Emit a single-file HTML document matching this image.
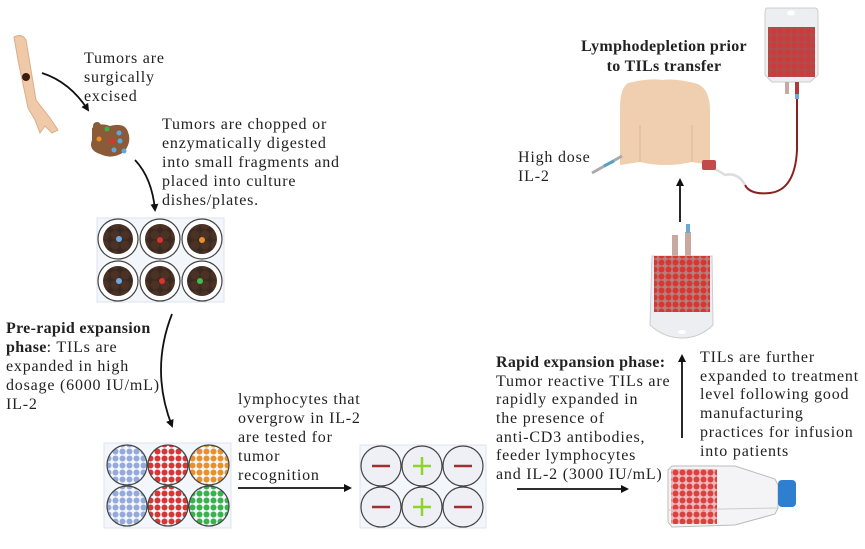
<!DOCTYPE html>
<html><head><meta charset="utf-8"><style>
body{margin:0;background:#fff}
svg text{font-family:"Liberation Serif",serif;font-size:16px;letter-spacing:0.8px;fill:#222}
.b{font-weight:bold;letter-spacing:0.3px}
</style></head><body>
<svg width="865" height="544" viewBox="0 0 865 544" xmlns="http://www.w3.org/2000/svg">
<defs>
<marker id="ah" markerWidth="8" markerHeight="8" refX="6" refY="4" orient="auto" markerUnits="userSpaceOnUse"><path d="M0,0 L8,4 L0,8 Z" fill="#111"/></marker>
<pattern id="rr" width="7" height="7" patternUnits="userSpaceOnUse"><circle cx="3.5" cy="3.5" r="3" fill="#d83535"/></pattern>
<pattern id="bl" width="7" height="7" patternUnits="userSpaceOnUse"><circle cx="3.5" cy="3.5" r="3" fill="#95a9dc"/></pattern>
<pattern id="or" width="7" height="7" patternUnits="userSpaceOnUse"><circle cx="3.5" cy="3.5" r="3" fill="#e8902a"/></pattern>
<pattern id="gr" width="7" height="7" patternUnits="userSpaceOnUse"><circle cx="3.5" cy="3.5" r="3" fill="#38b24a"/></pattern>
<pattern id="br" width="10" height="10" patternUnits="userSpaceOnUse"><rect width="10" height="10" fill="#3a2a22"/><circle cx="5" cy="5" r="4.5" fill="#4b3224"/></pattern>
</defs>

<!-- arm -->
<path d="M14,37 Q22,33 26,40 L36,100 L50,118 L58,130 L52,133 L45,126 L40,133 L35,120 L28,108 L18,60 Z" fill="#efc9a8" stroke="#d9ae8a"/>
<circle cx="26" cy="77" r="4" fill="#3a1c12"/>
<path d="M42,73 Q70,82 88,110" fill="none" stroke="#111" stroke-width="1.8" marker-end="url(#ah)"/>
<!-- tumor -->
<path d="M92,128 Q100,122 110,126 Q125,122 128,132 Q132,142 124,152 Q112,160 100,154 Q88,150 92,140 Z" fill="#8b5a38"/>
<circle cx="97" cy="126" r="4" fill="#8b5a38"/>
<circle cx="107" cy="129" r="2.5" fill="#3bb14a"/><circle cx="119" cy="133" r="2.5" fill="#5aa9e0"/><circle cx="112" cy="141" r="2.5" fill="#e03030"/><circle cx="120" cy="141" r="2.5" fill="#5aa9e0"/><circle cx="99" cy="139" r="2.5" fill="#e8902a"/><circle cx="114" cy="150" r="2.5" fill="#5aa9e0"/><circle cx="124" cy="151" r="2.5" fill="#5aa9e0"/>
<text x="84" y="63">Tumors are</text><text x="84" y="82">surgically</text><text x="84" y="101">excised</text>
<path d="M135,160 Q152,178 155,210" fill="none" stroke="#111" stroke-width="1.8" marker-end="url(#ah)"/>
<text x="162" y="129">Tumors are chopped or</text><text x="162" y="148">enzymatically digested</text><text x="162" y="167">into small fragments and</text><text x="162" y="186">placed into culture</text><text x="162" y="205">dishes/plates.</text>

<!-- plate1 -->
<rect x="97" y="218" width="127" height="84" fill="#f3f6fb" stroke="#dde3ee"/>
<g stroke="#444" stroke-width="1.2">
<circle cx="118" cy="239" r="20" fill="#fff"/><circle cx="160" cy="239" r="20" fill="#fff"/><circle cx="202" cy="239" r="20" fill="#fff"/>
<circle cx="118" cy="281" r="20" fill="#fff"/><circle cx="160" cy="281" r="20" fill="#fff"/><circle cx="202" cy="281" r="20" fill="#fff"/>
</g>
<g fill="url(#br)">
<circle cx="118" cy="239" r="15"/><circle cx="160" cy="239" r="15"/><circle cx="202" cy="239" r="15"/>
<circle cx="118" cy="281" r="15"/><circle cx="160" cy="281" r="15"/><circle cx="202" cy="281" r="15"/>
</g>
<circle cx="119" cy="239" r="3" fill="#6aa9e8"/><circle cx="160" cy="240" r="3" fill="#e03030"/><circle cx="202" cy="240" r="3" fill="#e8902a"/>
<circle cx="119" cy="281" r="3" fill="#6aa9e8"/><circle cx="162" cy="281" r="3" fill="#e03030"/><circle cx="200" cy="281" r="3" fill="#3bc04a"/>

<text x="6" y="333" class="b">Pre-rapid expansion</text>
<text x="6" y="352"><tspan class="b">phase</tspan>: TILs are</text>
<text x="6" y="371">expanded  in high</text>
<text x="6" y="390">dosage (6000 IU/mL)</text>
<text x="6" y="409"> IL-2</text>
<path d="M172,314 Q150,370 172,426" fill="none" stroke="#111" stroke-width="1.8" marker-end="url(#ah)"/>

<!-- plate2 -->
<rect x="104" y="443" width="127" height="85" fill="#f3f6fb" stroke="#dde3ee"/>
<g stroke="#444" stroke-width="1.2">
<circle cx="127" cy="465" r="20" fill="url(#bl)"/><circle cx="168" cy="465" r="20" fill="url(#rr)"/><circle cx="209" cy="465" r="20" fill="url(#or)"/>
<circle cx="127" cy="506" r="20" fill="url(#bl)"/><circle cx="168" cy="506" r="20" fill="url(#rr)"/><circle cx="209" cy="506" r="20" fill="url(#gr)"/>
</g>
<text x="238" y="404">lymphocytes that</text><text x="238" y="423">overgrow in IL-2</text><text x="238" y="442">are tested for</text><text x="238" y="461">tumor</text><text x="238" y="480">recognition</text>
<line x1="238" y1="488" x2="350" y2="488" stroke="#111" stroke-width="1.8" marker-end="url(#ah)"/>

<!-- plate3 -->
<rect x="360" y="445" width="126" height="83" fill="#f3f6fb" stroke="#dde3ee"/>
<g stroke="#444" stroke-width="1.2" fill="#eef0f6">
<circle cx="381" cy="466" r="20"/><circle cx="422" cy="466" r="20"/><circle cx="463" cy="466" r="20"/>
<circle cx="381" cy="507" r="20"/><circle cx="422" cy="507" r="20"/><circle cx="463" cy="507" r="20"/>
</g>
<g stroke="#a03030" stroke-width="2.5"><line x1="372" y1="466" x2="390" y2="466"/><line x1="454" y1="466" x2="472" y2="466"/><line x1="372" y1="507" x2="390" y2="507"/><line x1="454" y1="507" x2="472" y2="507"/></g>
<g stroke="#8fd42a" stroke-width="2.5"><line x1="413" y1="466" x2="431" y2="466"/><line x1="422" y1="457" x2="422" y2="475"/><line x1="413" y1="507" x2="431" y2="507"/><line x1="422" y1="498" x2="422" y2="516"/></g>

<text x="496" y="367" class="b">Rapid expansion phase:</text>
<text x="496" y="386">Tumor reactive TILs are</text>
<text x="496" y="404"> rapidly expanded  in</text>
<text x="496" y="423">the presence of</text>
<text x="496" y="442">anti-CD3 antibodies,</text>
<text x="496" y="460">feeder lymphocytes</text>
<text x="496" y="479">and IL-2 (3000 IU/mL)</text>
<line x1="517" y1="489" x2="627" y2="489" stroke="#111" stroke-width="1.8" marker-end="url(#ah)"/>

<!-- flask -->
<path d="M672,466 L735,466 L775,479 L778,485 L778,508 L775,514 L735,525 L672,527 L668,522 L668,470 Z" fill="#f4f4f6" stroke="#bbb"/>
<rect x="671" y="469" width="46" height="55" fill="#e87070" opacity="0.45"/>
<rect x="671" y="469" width="46" height="55" fill="url(#rr)" opacity="0.9"/>
<line x1="668" y1="510" x2="778" y2="508" stroke="#ccc"/>
<rect x="778" y="480" width="18" height="27" rx="4" fill="#2f7fd0"/>

<line x1="682" y1="438" x2="682" y2="356" stroke="#111" stroke-width="1.8" marker-end="url(#ah)"/>
<text x="700" y="362">TILs are further</text><text x="700" y="381">expanded to treatment</text><text x="700" y="399">level following good</text><text x="700" y="418">manufacturing</text><text x="700" y="437">practices for infusion</text><text x="700" y="456">into patients</text>

<!-- middle bag -->
<rect x="672" y="235" width="6" height="22" fill="#c9a8a0"/><rect x="685" y="232" width="6" height="25" fill="#c9a8a0"/><rect x="686" y="224" width="4" height="9" fill="#6aa9d6"/>
<path d="M652,256 L712,256 L713,325 Q700,338 682,338 Q664,338 650,325 Z" fill="#eceef2" stroke="#ccc"/>
<rect x="654" y="256" width="56" height="56" fill="#b5807a"/>
<rect x="654" y="256" width="56" height="56" fill="url(#rr)"/>
<ellipse cx="682" cy="332" rx="4" ry="2" fill="#fff"/>
<line x1="680" y1="222" x2="680" y2="180" stroke="#111" stroke-width="1.8" marker-end="url(#ah)"/>

<!-- torso -->
<path d="M628,83 Q650,78 662,80 Q676,78 698,84 Q710,90 710,110 L710,165 L692,162 Q665,168 640,162 L620,165 L620,108 Q620,88 628,83 Z" fill="#f0cfb0"/>
<path d="M640,162 L640,125 M692,162 L692,125" stroke="#dcb393" fill="none"/>
<text x="664" y="51" class="b" text-anchor="middle">Lymphodepletion prior</text>
<text x="664" y="71" class="b" text-anchor="middle">to TILs transfer</text>
<text x="518" y="162">High dose</text><text x="518" y="181">IL-2</text>
<line x1="592" y1="173" x2="622" y2="156" stroke="#aaa" stroke-width="3"/>
<line x1="604" y1="166" x2="614" y2="161" stroke="#5aa0c0" stroke-width="3"/>

<!-- IV bag -->
<path d="M767,8 L815,8 Q818,8 818,14 L818,75 L810,82 L772,82 L765,75 L765,14 Q765,8 767,8 Z" fill="#eceef2" stroke="#ccc"/>
<ellipse cx="791" cy="13" rx="4" ry="2.5" fill="#fff"/>
<rect x="768" y="27" width="47" height="50" fill="#a85050"/>
<rect x="768" y="27" width="47" height="50" fill="url(#rr)" opacity="0.8"/>
<rect x="785" y="82" width="4" height="12" fill="#c9a8a0"/>
<rect x="795" y="82" width="4" height="14" fill="#b03a3a"/><rect x="795" y="94" width="4" height="5" fill="#6aa9d6"/>
<path d="M797,99 L797,150 Q795,190 770,193 Q750,195 745,185" fill="none" stroke="#8b2020" stroke-width="2"/>
<path d="M745,185 Q738,172 725,175 Q718,170 712,168" fill="none" stroke="#ddd" stroke-width="2.5"/>
<rect x="702" y="160" width="14" height="10" rx="2" fill="#c24a4a"/>
</svg>
</body></html>
